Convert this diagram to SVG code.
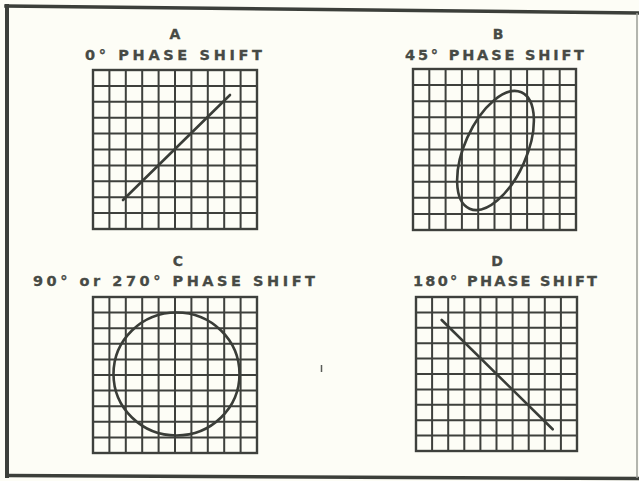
<svg xmlns="http://www.w3.org/2000/svg" width="639" height="481" viewBox="0 0 639 481">
<style>
.bg{fill:#fdfdf6}
.frame{stroke:#3c3f3a;fill:none;stroke-linecap:square}
.grid{stroke:#3e403c;stroke-width:2;fill:none}
.gborder{stroke:#3e403c;stroke-width:2.4;fill:none}
.trace{stroke:#3a3d38;stroke-width:2.6;fill:none;stroke-linecap:round}
.t{font-family:"DejaVu Sans","Liberation Sans",sans-serif;font-weight:bold;fill:#474a45;stroke:#474a45;stroke-width:0.3}
.letter{font-size:14px;text-anchor:middle}
.cap{font-size:14.5px}
</style>
<rect class="bg" x="0" y="0" width="639" height="481"/>
<g id="frame">
<path class="frame" stroke-width="3.5" d="M6,6 L639,13"/>
<path class="frame" stroke-width="4" d="M7,6 V476"/>
<path class="frame" stroke-width="3.5" d="M7,475.5 L639,478.5"/>
<path stroke="#9a9c96" stroke-width="1.5" d="M637,13 V478"/>
</g>
<g id="panelA">
<text class="t letter" x="175" y="38.5">A</text>
<text class="t cap" x="85" y="59.5" textLength="177" lengthAdjust="spacing">0° PHASE SHIFT</text>
<path class="grid" d="M109.4,70V229M125.8,70V229M142.2,70V229M158.6,70V229M175,70V229M191.4,70V229M207.8,70V229M224.2,70V229M240.6,70V229M93,85.9H257M93,101.8H257M93,117.7H257M93,133.6H257M93,149.5H257M93,165.4H257M93,181.3H257M93,197.2H257M93,213.1H257"/>
<rect class="gborder" x="93" y="70" width="164" height="159"/>
<path class="trace" d="M123,200 L230,95"/>
</g>
<g id="panelB">
<text class="t letter" x="498" y="38.5">B</text>
<text class="t cap" x="405" y="59.5" textLength="179" lengthAdjust="spacing">45° PHASE SHIFT</text>
<path class="grid" d="M429.3,69V230M445.6,69V230M461.9,69V230M478.2,69V230M494.5,69V230M510.8,69V230M527.1,69V230M543.4,69V230M559.7,69V230M413,85.1H576M413,101.2H576M413,117.3H576M413,133.4H576M413,149.5H576M413,165.6H576M413,181.7H576M413,197.8H576M413,213.9H576"/>
<rect class="gborder" x="413" y="69" width="163" height="161"/>
<ellipse class="trace" cx="495.5" cy="150.5" rx="31" ry="63.7" transform="rotate(24 495.5 150.5)"/>
</g>
<g id="panelC">
<text class="t letter" x="178" y="266">C</text>
<text class="t cap" x="33" y="285.5" textLength="282" lengthAdjust="spacing">90° or 270° PHASE SHIFT</text>
<path class="grid" d="M109.4,297V453M125.8,297V453M142.2,297V453M158.6,297V453M175,297V453M191.4,297V453M207.8,297V453M224.2,297V453M240.6,297V453M93,312.6H257M93,328.2H257M93,343.8H257M93,359.4H257M93,375H257M93,390.6H257M93,406.2H257M93,421.8H257M93,437.4H257"/>
<rect class="gborder" x="93" y="297" width="164" height="156"/>
<ellipse class="trace" cx="176.5" cy="374" rx="63" ry="61.5"/>
</g>
<g id="panelD">
<text class="t letter" x="497" y="266">D</text>
<text class="t cap" x="413" y="285.5" textLength="184" lengthAdjust="spacing">180° PHASE SHIFT</text>
<path class="grid" d="M432.1,297V451M448.2,297V451M464.3,297V451M480.4,297V451M496.5,297V451M512.6,297V451M528.7,297V451M544.8,297V451M560.9,297V451M416,312.4H577M416,327.8H577M416,343.2H577M416,358.6H577M416,374H577M416,389.4H577M416,404.8H577M416,420.2H577M416,435.6H577"/>
<rect class="gborder" x="416" y="297" width="161" height="154"/>
<path class="trace" d="M441.7,320 L552.7,429.3"/>
</g>
<path stroke="#5a5c58" stroke-width="1.5" d="M321.5,365V372"/>
</svg>
